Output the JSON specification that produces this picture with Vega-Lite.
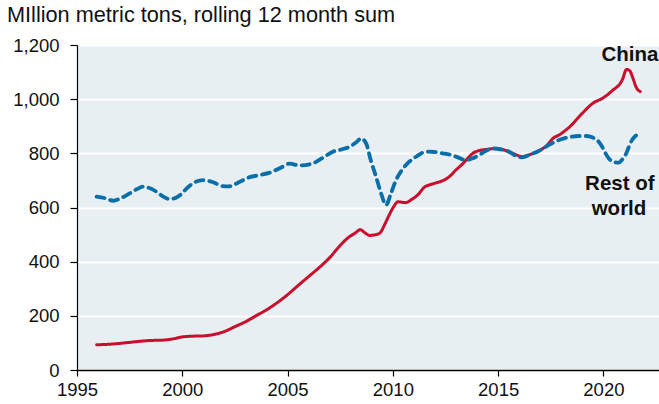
{
  "$schema": "https://vega.github.io/schema/vega-lite/v6.json",
  "width": 582,
  "height": 325,
  "autosize": "none",
  "padding": {"left": 77, "top": 45, "right": 0, "bottom": 34},
  "background": "white",
  "title": {
    "text": "MIllion metric tons, rolling 12 month sum",
    "anchor": "start",
    "frame": "group",
    "dx": -70,
    "offset": 9,
    "font": "Liberation Sans",
    "fontSize": 21.7,
    "fontWeight": "normal",
    "color": "#111"
  },
  "config": {
    "view": {"fill": "#e8eff3", "stroke": null},
    "font": "Liberation Sans"
  },
  "datasets": {
    "series": [
      {"year": 1995.93, "value": 93, "series": "China"},
      {"year": 1996.5, "value": 95, "series": "China"},
      {"year": 1997.0, "value": 98, "series": "China"},
      {"year": 1997.5, "value": 102, "series": "China"},
      {"year": 1998.0, "value": 106, "series": "China"},
      {"year": 1998.5, "value": 109, "series": "China"},
      {"year": 1999.0, "value": 110, "series": "China"},
      {"year": 1999.5, "value": 114, "series": "China"},
      {"year": 2000.0, "value": 122, "series": "China"},
      {"year": 2000.5, "value": 125, "series": "China"},
      {"year": 2001.0, "value": 126, "series": "China"},
      {"year": 2001.5, "value": 131, "series": "China"},
      {"year": 2002.0, "value": 142, "series": "China"},
      {"year": 2002.5, "value": 160, "series": "China"},
      {"year": 2003.0, "value": 178, "series": "China"},
      {"year": 2003.5, "value": 200, "series": "China"},
      {"year": 2004.0, "value": 222, "series": "China"},
      {"year": 2004.5, "value": 248, "series": "China"},
      {"year": 2005.0, "value": 278, "series": "China"},
      {"year": 2005.5, "value": 312, "series": "China"},
      {"year": 2006.0, "value": 345, "series": "China"},
      {"year": 2006.5, "value": 378, "series": "China"},
      {"year": 2007.0, "value": 415, "series": "China"},
      {"year": 2007.5, "value": 460, "series": "China"},
      {"year": 2007.9, "value": 490, "series": "China"},
      {"year": 2008.2, "value": 505, "series": "China"},
      {"year": 2008.45, "value": 518, "series": "China"},
      {"year": 2008.7, "value": 505, "series": "China"},
      {"year": 2008.9, "value": 497, "series": "China"},
      {"year": 2009.2, "value": 500, "series": "China"},
      {"year": 2009.4, "value": 507, "series": "China"},
      {"year": 2009.6, "value": 535, "series": "China"},
      {"year": 2009.8, "value": 568, "series": "China"},
      {"year": 2010.0, "value": 598, "series": "China"},
      {"year": 2010.25, "value": 621, "series": "China"},
      {"year": 2010.6, "value": 618, "series": "China"},
      {"year": 2010.9, "value": 630, "series": "China"},
      {"year": 2011.2, "value": 648, "series": "China"},
      {"year": 2011.5, "value": 675, "series": "China"},
      {"year": 2011.8, "value": 685, "series": "China"},
      {"year": 2012.1, "value": 692, "series": "China"},
      {"year": 2012.45, "value": 702, "series": "China"},
      {"year": 2012.7, "value": 715, "series": "China"},
      {"year": 2012.95, "value": 735, "series": "China"},
      {"year": 2013.3, "value": 760, "series": "China"},
      {"year": 2013.6, "value": 785, "series": "China"},
      {"year": 2013.8, "value": 800, "series": "China"},
      {"year": 2014.1, "value": 810, "series": "China"},
      {"year": 2014.5, "value": 815, "series": "China"},
      {"year": 2014.9, "value": 818, "series": "China"},
      {"year": 2015.3, "value": 812, "series": "China"},
      {"year": 2015.7, "value": 800, "series": "China"},
      {"year": 2016.15, "value": 788, "series": "China"},
      {"year": 2016.6, "value": 798, "series": "China"},
      {"year": 2017.0, "value": 812, "series": "China"},
      {"year": 2017.3, "value": 828, "series": "China"},
      {"year": 2017.6, "value": 855, "series": "China"},
      {"year": 2017.9, "value": 868, "series": "China"},
      {"year": 2018.4, "value": 898, "series": "China"},
      {"year": 2019.0, "value": 948, "series": "China"},
      {"year": 2019.5, "value": 985, "series": "China"},
      {"year": 2019.95, "value": 1003, "series": "China"},
      {"year": 2020.4, "value": 1030, "series": "China"},
      {"year": 2020.9, "value": 1072, "series": "China"},
      {"year": 2021.1, "value": 1110, "series": "China"},
      {"year": 2021.25, "value": 1105, "series": "China"},
      {"year": 2021.4, "value": 1078, "series": "China"},
      {"year": 2021.55, "value": 1045, "series": "China"},
      {"year": 2021.75, "value": 1028, "series": "China"},
      {"year": 1995.93, "value": 640, "series": "Rest of world"},
      {"year": 1996.3, "value": 635, "series": "Rest of world"},
      {"year": 1996.72, "value": 625, "series": "Rest of world"},
      {"year": 1997.1, "value": 635, "series": "Rest of world"},
      {"year": 1997.5, "value": 652, "series": "Rest of world"},
      {"year": 1997.85, "value": 668, "series": "Rest of world"},
      {"year": 1998.14, "value": 677, "series": "Rest of world"},
      {"year": 1998.5, "value": 670, "series": "Rest of world"},
      {"year": 1998.78, "value": 658, "series": "Rest of world"},
      {"year": 1999.1, "value": 640, "series": "Rest of world"},
      {"year": 1999.41, "value": 631, "series": "Rest of world"},
      {"year": 1999.7, "value": 636, "series": "Rest of world"},
      {"year": 1999.9, "value": 646, "series": "Rest of world"},
      {"year": 2000.2, "value": 670, "series": "Rest of world"},
      {"year": 2000.5, "value": 689, "series": "Rest of world"},
      {"year": 2000.99, "value": 701, "series": "Rest of world"},
      {"year": 2001.4, "value": 695, "series": "Rest of world"},
      {"year": 2001.93, "value": 679, "series": "Rest of world"},
      {"year": 2002.2, "value": 678, "series": "Rest of world"},
      {"year": 2002.73, "value": 695, "series": "Rest of world"},
      {"year": 2003.2, "value": 712, "series": "Rest of world"},
      {"year": 2003.7, "value": 720, "series": "Rest of world"},
      {"year": 2004.2, "value": 730, "series": "Rest of world"},
      {"year": 2004.7, "value": 748, "series": "Rest of world"},
      {"year": 2005.1, "value": 762, "series": "Rest of world"},
      {"year": 2005.57, "value": 755, "series": "Rest of world"},
      {"year": 2006.2, "value": 763, "series": "Rest of world"},
      {"year": 2006.7, "value": 785, "series": "Rest of world"},
      {"year": 2007.15, "value": 806, "series": "Rest of world"},
      {"year": 2007.6, "value": 815, "series": "Rest of world"},
      {"year": 2007.94, "value": 824, "series": "Rest of world"},
      {"year": 2008.25, "value": 840, "series": "Rest of world"},
      {"year": 2008.5, "value": 855, "series": "Rest of world"},
      {"year": 2008.73, "value": 837, "series": "Rest of world"},
      {"year": 2008.95, "value": 775, "series": "Rest of world"},
      {"year": 2009.2, "value": 714, "series": "Rest of world"},
      {"year": 2009.45, "value": 650, "series": "Rest of world"},
      {"year": 2009.68, "value": 609, "series": "Rest of world"},
      {"year": 2009.9, "value": 650, "series": "Rest of world"},
      {"year": 2010.15, "value": 701, "series": "Rest of world"},
      {"year": 2010.45, "value": 740, "series": "Rest of world"},
      {"year": 2010.78, "value": 769, "series": "Rest of world"},
      {"year": 2011.15, "value": 790, "series": "Rest of world"},
      {"year": 2011.57, "value": 806, "series": "Rest of world"},
      {"year": 2012.0, "value": 805, "series": "Rest of world"},
      {"year": 2012.36, "value": 800, "series": "Rest of world"},
      {"year": 2012.7, "value": 795, "series": "Rest of world"},
      {"year": 2012.99, "value": 788, "series": "Rest of world"},
      {"year": 2013.47, "value": 775, "series": "Rest of world"},
      {"year": 2013.8, "value": 782, "series": "Rest of world"},
      {"year": 2014.1, "value": 794, "series": "Rest of world"},
      {"year": 2014.4, "value": 808, "series": "Rest of world"},
      {"year": 2014.73, "value": 818, "series": "Rest of world"},
      {"year": 2015.1, "value": 815, "series": "Rest of world"},
      {"year": 2015.52, "value": 806, "series": "Rest of world"},
      {"year": 2015.85, "value": 790, "series": "Rest of world"},
      {"year": 2016.15, "value": 785, "series": "Rest of world"},
      {"year": 2016.5, "value": 795, "series": "Rest of world"},
      {"year": 2016.86, "value": 806, "series": "Rest of world"},
      {"year": 2017.42, "value": 831, "series": "Rest of world"},
      {"year": 2017.89, "value": 849, "series": "Rest of world"},
      {"year": 2018.4, "value": 860, "series": "Rest of world"},
      {"year": 2018.84, "value": 864, "series": "Rest of world"},
      {"year": 2019.2, "value": 864, "series": "Rest of world"},
      {"year": 2019.47, "value": 859, "series": "Rest of world"},
      {"year": 2019.75, "value": 845, "series": "Rest of world"},
      {"year": 2019.94, "value": 824, "series": "Rest of world"},
      {"year": 2020.1, "value": 800, "series": "Rest of world"},
      {"year": 2020.26, "value": 781, "series": "Rest of world"},
      {"year": 2020.5, "value": 768, "series": "Rest of world"},
      {"year": 2020.73, "value": 766, "series": "Rest of world"},
      {"year": 2020.9, "value": 778, "series": "Rest of world"},
      {"year": 2021.05, "value": 794, "series": "Rest of world"},
      {"year": 2021.2, "value": 822, "series": "Rest of world"},
      {"year": 2021.35, "value": 848, "series": "Rest of world"},
      {"year": 2021.55, "value": 866, "series": "Rest of world"},
      {"year": 2021.76, "value": 876, "series": "Rest of world"}
    ],
    "labels": [
      {"year": 2021.26, "value": 1163, "label": "China"},
      {"year": 2020.78, "value": 687, "label": "Rest of"},
      {"year": 2020.74, "value": 596, "label": "world"}
    ]
  },
  "layer": [
    {
      "data": {"name": "series"},
      "mark": {"type": "line", "interpolate": "monotone", "strokeCap": "round"},
      "encoding": {
        "x": {
          "field": "year",
          "type": "quantitative",
          "scale": {"domain": [1995, 2022.64], "nice": false, "zero": false},
          "axis": {
            "title": null,
            "values": [1995, 2000, 2005, 2010, 2015, 2020],
            "format": "d",
            "grid": false,
            "labelFlush": false,
            "domainColor": "#000",
            "domainWidth": 1.5,
            "tickColor": "#000",
            "tickSize": 6,
            "tickWidth": 1.2,
            "labelFontSize": 18.5,
            "labelColor": "#111",
            "labelPadding": 4,
            "labelFont": "Liberation Sans"
          }
        },
        "y": {
          "field": "value",
          "type": "quantitative",
          "scale": {"domain": [0, 1200], "nice": false},
          "axis": {
            "title": null,
            "values": [0, 200, 400, 600, 800, 1000, 1200],
            "format": ",.0f",
            "grid": true,
            "labelFlush": false,
            "gridColor": "#ffffff",
            "gridWidth": 2,
            "domainColor": "#000",
            "domainWidth": 1.2,
            "tickColor": "#000",
            "tickSize": 7,
            "tickWidth": 1.2,
            "labelFontSize": 18.5,
            "labelColor": "#111",
            "labelPadding": 11,
            "labelFont": "Liberation Sans"
          }
        },
        "color": {
          "field": "series",
          "type": "nominal",
          "scale": {"domain": ["China", "Rest of world"], "range": ["#c8102e", "#0a6ea8"]},
          "legend": null
        },
        "strokeDash": {
          "field": "series",
          "type": "nominal",
          "scale": {"domain": ["China", "Rest of world"], "range": [[1, 0], [8, 6]]},
          "legend": null
        },
        "strokeWidth": {
          "field": "series",
          "type": "nominal",
          "scale": {"domain": ["China", "Rest of world"], "range": [3, 3.8]},
          "legend": null
        }
      }
    },
    {
      "data": {"name": "labels"},
      "mark": {"type": "text", "fontWeight": "bold", "fontSize": 20.5, "font": "Liberation Sans", "align": "center", "baseline": "middle", "color": "#111"},
      "encoding": {
        "x": {"field": "year", "type": "quantitative"},
        "y": {"field": "value", "type": "quantitative"},
        "text": {"field": "label"}
      }
    }
  ]
}
